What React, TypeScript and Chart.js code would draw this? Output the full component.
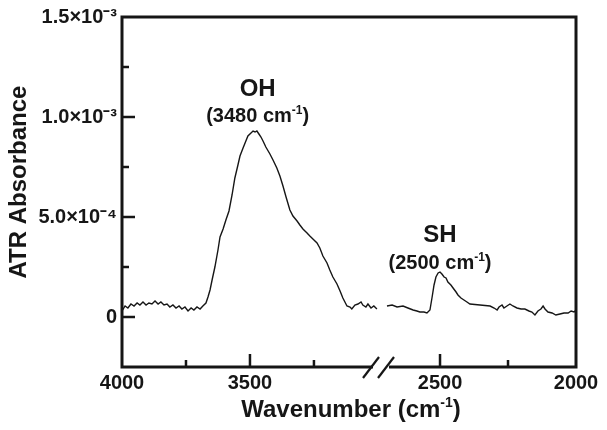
import React, { useEffect, useRef } from 'react';
import { Chart, registerables } from 'chart.js';

Chart.register(...registerables);

const FONT = '"Liberation Sans", Arial, Helvetica, sans-serif';
const INK = '#161616';

// OH region (left part of the broken axis)
const OH_WAVENUMBER = [
  4000, 3988, 3977, 3965, 3953, 3941, 3930, 3918, 3906, 3895, 3883, 3871, 3859, 3848, 3836, 3824,
  3813, 3801, 3789, 3777, 3766, 3754, 3742, 3730, 3719, 3707, 3695, 3684, 3672, 3664, 3656, 3648,
  3637, 3625, 3617, 3605, 3594, 3582, 3570, 3559, 3547, 3539, 3527, 3516, 3508, 3496, 3488, 3480,
  3473, 3465, 3457, 3449, 3438, 3422, 3410, 3395, 3383, 3371, 3359, 3344, 3332, 3316, 3305, 3293,
  3277, 3266, 3254, 3238, 3227, 3215, 3199, 3188, 3176, 3160, 3148, 3137, 3129, 3121, 3109, 3102,
  3090, 3078, 3066, 3059, 3047, 3039, 3027, 3016, 3004,
];
const OH_ABSORBANCE = [
  3.0e-5, 5.5e-5, 4.5e-5, 6.5e-5, 5.5e-5, 7.0e-5, 6.0e-5, 7.5e-5, 6.0e-5, 7.0e-5, 6.5e-5, 8.0e-5, 6.5e-5, 7.5e-5, 6.0e-5, 6.5e-5,
  5.0e-5, 6.0e-5, 4.5e-5, 5.5e-5, 4.0e-5, 5.0e-5, 3.0e-5, 4.5e-5, 3.5e-5, 5.0e-5, 4.0e-5, 5.5e-5, 7.0e-5, 1.0e-4, 1.35e-4, 1.85e-4,
  2.5e-4, 3.35e-4, 4.0e-4, 4.4e-4, 4.85e-4, 5.3e-4, 6.1e-4, 6.95e-4, 7.6e-4, 8.05e-4, 8.45e-4, 8.8e-4, 9.05e-4, 9.2e-4, 9.3e-4, 9.25e-4,
  9.3e-4, 9.15e-4, 9.0e-4, 8.8e-4, 8.5e-4, 8.15e-4, 7.85e-4, 7.45e-4, 7.05e-4, 6.55e-4, 6.0e-4, 5.35e-4, 5.05e-4, 4.8e-4, 4.6e-4, 4.4e-4,
  4.2e-4, 4.05e-4, 3.9e-4, 3.7e-4, 3.45e-4, 3.05e-4, 2.7e-4, 2.35e-4, 2.0e-4, 1.65e-4, 1.3e-4, 9.5e-5, 7.5e-5, 5.5e-5, 5.0e-5, 4.0e-5,
  6.0e-5, 6.5e-5, 7.5e-5, 6.0e-5, 5.0e-5, 6.5e-5, 4.5e-5, 5.5e-5, 4.0e-5,
];

// SH region (right part of the broken axis)
const SH_WAVENUMBER = [
  2695, 2676, 2658, 2636, 2618, 2599, 2585, 2574, 2559, 2548, 2537, 2529, 2522, 2515, 2507, 2500,
  2493, 2485, 2478, 2471, 2460, 2452, 2441, 2434, 2423, 2412, 2401, 2390, 2353, 2316, 2301, 2290,
  2283, 2272, 2265, 2254, 2243, 2232, 2217, 2202, 2188, 2173, 2162, 2151, 2140, 2129, 2121, 2114,
  2103, 2088, 2074, 2059, 2044, 2029, 2018, 2007, 2000,
];
const SH_ABSORBANCE = [
  5.5e-5, 6.0e-5, 5.0e-5, 5.5e-5, 4.5e-5, 3.5e-5, 3.0e-5, 2.5e-5, 2.5e-5, 2.0e-5, 3.5e-5, 1.0e-4, 1.6e-4, 2.0e-4, 2.2e-4, 2.25e-4,
  2.15e-4, 2.0e-4, 1.95e-4, 1.75e-4, 1.6e-4, 1.45e-4, 1.25e-4, 1.1e-4, 9.5e-5, 8.5e-5, 7.5e-5, 6.5e-5, 6.0e-5, 5.5e-5, 4.5e-5, 3.5e-5,
  5.0e-5, 6.0e-5, 4.5e-5, 5.5e-5, 6.5e-5, 5.5e-5, 4.5e-5, 4.0e-5, 4.0e-5, 3.0e-5, 2.5e-5, 1.0e-5, 3.0e-5, 4.0e-5, 5.5e-5, 4.0e-5,
  2.5e-5, 2.0e-5, 1.0e-5, 1.5e-5, 2.0e-5, 2.0e-5, 3.0e-5, 2.5e-5, 3.5e-5,
];

// Axis ranges and ticks
const X_LEFT_RANGE = [2988, 4000];
const X_RIGHT_RANGE = [2000, 2717];
const X_LEFT_WEIGHT = 259;
const X_RIGHT_WEIGHT = 195;
const X_LEFT_LABELS = [4000, 3500];
const X_RIGHT_LABELS = [2500, 2000];
const X_LEFT_MAJOR = [3500];
const X_LEFT_MINOR = [3750, 3250];
const X_RIGHT_MAJOR = [2500];
const X_RIGHT_MINOR = [2250];

const Y_RANGE = [-2.5e-4, 1.5e-3];
const Y_TICKS = [0, 5e-4, 1e-3, 1.5e-3];
const Y_TICK_LABELS = ['0', '5.0×10⁻⁴', '1.0×10⁻³', '1.5×10⁻³'];
const Y_MAJOR = [0, 5e-4, 1e-3];
const Y_MINOR = [2.5e-4, 7.5e-4, 1.25e-3];

// Peak annotations: name, wavenumber text, anchor (wavenumber, absorbance) for name and subtitle
const PEAK_NAMES = ['OH', 'SH'];
const PEAK_TEXTS = ['3480', '2500'];
const PEAK_AXES = ['xL', 'xR'];
const PEAK_ANCHOR_WN = [3470, 2500];
const PEAK_NAME_ABS = [1.15e-3, 4.18e-4];
const PEAK_SUB_ABS = [1.01e-3, 2.78e-4];

type Part = { t: string; sup?: boolean };

function drawRich(ctx: CanvasRenderingContext2D, parts: Part[], cx: number, cy: number, size: number) {
  const main = `bold ${size}px ${FONT}`;
  const sup = `bold ${Math.round(size * 0.58)}px ${FONT}`;
  let total = 0;
  const widths = parts.map((p) => {
    ctx.font = p.sup ? sup : main;
    const w = ctx.measureText(p.t).width;
    total += w;
    return w;
  });
  let x = cx - total / 2;
  const base = cy + size * 0.36;
  ctx.textAlign = 'left';
  ctx.textBaseline = 'alphabetic';
  parts.forEach((p, i) => {
    ctx.font = p.sup ? sup : main;
    ctx.fillText(p.t, x, p.sup ? base - size * 0.4 : base);
    x += widths[i];
  });
}

const decorPlugin = {
  id: 'decor',
  afterDraw(chart: any) {
    const { ctx, chartArea: a, scales } = chart;
    const yS = scales.y;
    const xL = scales.xL;
    const xR = scales.xR;
    ctx.save();
    ctx.strokeStyle = INK;
    ctx.fillStyle = INK;
    ctx.lineCap = 'butt';

    const seg = (x1: number, y1: number, x2: number, y2: number) => {
      ctx.beginPath();
      ctx.moveTo(x1, y1);
      ctx.lineTo(x2, y2);
      ctx.stroke();
    };

    // ticks (inward)
    ctx.lineWidth = 2.5;
    Y_MAJOR.forEach((v) => { const p = yS.getPixelForValue(v); seg(a.left, p, a.left + 13, p); });
    Y_MINOR.forEach((v) => { const p = yS.getPixelForValue(v); seg(a.left, p, a.left + 7, p); });
    X_LEFT_MAJOR.forEach((v) => { const p = xL.getPixelForValue(v); seg(p, a.bottom, p, a.bottom - 13); });
    X_LEFT_MINOR.forEach((v) => { const p = xL.getPixelForValue(v); seg(p, a.bottom, p, a.bottom - 7); });
    X_RIGHT_MAJOR.forEach((v) => { const p = xR.getPixelForValue(v); seg(p, a.bottom, p, a.bottom - 13); });
    X_RIGHT_MINOR.forEach((v) => { const p = xR.getPixelForValue(v); seg(p, a.bottom, p, a.bottom - 7); });

    // frame
    ctx.lineWidth = 3;
    ctx.strokeRect(a.left, a.top, a.right - a.left, a.bottom - a.top);

    // axis break
    const bx = xL.right;
    ctx.fillStyle = '#ffffff';
    ctx.fillRect(bx - 8, a.bottom - 3, 16, 6);
    ctx.fillStyle = INK;
    ctx.lineWidth = 2.2;
    seg(bx - 18, a.bottom + 11, bx - 2, a.bottom - 10);
    seg(bx - 3, a.bottom + 11, bx + 13, a.bottom - 10);

    // peak annotations
    PEAK_NAMES.forEach((name, i) => {
      const sx = scales[PEAK_AXES[i]];
      const px = sx.getPixelForValue(PEAK_ANCHOR_WN[i]);
      drawRich(ctx, [{ t: name }], px, yS.getPixelForValue(PEAK_NAME_ABS[i]), 24);
      drawRich(ctx, [{ t: `(${PEAK_TEXTS[i]} cm` }, { t: '-1', sup: true }, { t: ')' }], px,
        yS.getPixelForValue(PEAK_SUB_ABS[i]), 20);
    });

    // axis titles
    drawRich(ctx, [{ t: 'Wavenumber (cm' }, { t: '-1', sup: true }, { t: ')' }], (a.left + a.right) / 2 + 2, 408, 24);
    ctx.save();
    ctx.translate(17, 182);
    ctx.rotate(-Math.PI / 2);
    drawRich(ctx, [{ t: 'ATR Absorbance' }], 0, 0, 24);
    ctx.restore();

    ctx.restore();
  },
};

export default function App() {
  const ref = useRef<HTMLCanvasElement | null>(null);

  useEffect(() => {
    if (!ref.current) return;
    const tickFont = { family: FONT, size: 20, weight: 'bold' as const };
    const chart = new Chart(ref.current, {
      type: 'line',
      data: {
        datasets: [
          {
            label: 'OH',
            data: OH_WAVENUMBER.map((x, i) => ({ x, y: OH_ABSORBANCE[i] })),
            xAxisID: 'xL',
            yAxisID: 'y',
            borderColor: INK,
            borderWidth: 1.4,
            pointRadius: 0,
            tension: 0,
            fill: false,
          },
          {
            label: 'SH',
            data: SH_WAVENUMBER.map((x, i) => ({ x, y: SH_ABSORBANCE[i] })),
            xAxisID: 'xR',
            yAxisID: 'y',
            borderColor: INK,
            borderWidth: 1.4,
            pointRadius: 0,
            tension: 0,
            fill: false,
          },
        ],
      },
      options: {
        responsive: false,
        animation: false,
        layout: { padding: { top: 17, right: 31, bottom: 0, left: 0 } },
        plugins: { legend: { display: false }, tooltip: { enabled: false }, title: { display: false } },
        scales: {
          xL: {
            type: 'linear',
            position: 'bottom',
            stack: 'wn',
            stackWeight: X_LEFT_WEIGHT,
            reverse: true,
            min: X_LEFT_RANGE[0],
            max: X_LEFT_RANGE[1],
            grid: { display: false, drawTicks: false },
            border: { display: false },
            afterBuildTicks: (s: any) => { s.ticks = X_LEFT_LABELS.map((value) => ({ value })); },
            afterFit: (s: any) => { s.height = 63; },
            ticks: {
              autoSkip: false,
              maxRotation: 0,
              padding: 4,
              color: INK,
              font: tickFont,
              callback: (v: any) => String(v),
            },
          },
          xR: {
            type: 'linear',
            position: 'bottom',
            stack: 'wn',
            stackWeight: X_RIGHT_WEIGHT,
            reverse: true,
            min: X_RIGHT_RANGE[0],
            max: X_RIGHT_RANGE[1],
            grid: { display: false, drawTicks: false },
            border: { display: false },
            afterBuildTicks: (s: any) => { s.ticks = X_RIGHT_LABELS.map((value) => ({ value })); },
            afterFit: (s: any) => { s.height = 63; },
            ticks: {
              autoSkip: false,
              maxRotation: 0,
              padding: 4,
              color: INK,
              font: tickFont,
              callback: (v: any) => String(v),
            },
          },
          y: {
            type: 'linear',
            position: 'left',
            min: Y_RANGE[0],
            max: Y_RANGE[1],
            grid: { display: false, drawTicks: false },
            border: { display: false },
            afterBuildTicks: (s: any) => { s.ticks = Y_TICKS.map((value) => ({ value })); },
            afterFit: (s: any) => { s.width = 122; },
            ticks: {
              autoSkip: false,
              padding: 5,
              color: INK,
              font: tickFont,
              callback: (v: any) => {
                const i = Y_TICKS.findIndex((t) => Math.abs(t - v) < 1e-9);
                return i >= 0 ? Y_TICK_LABELS[i] : '';
              },
            },
          },
        },
      },
      plugins: [decorPlugin],
    });
    return () => chart.destroy();
  }, []);

  return (
    <div style={{ position: 'absolute', left: 0, top: 0, width: 607, height: 430, background: '#fff' }}>
      <canvas ref={ref} width={607} height={430} style={{ display: 'block' }} />
    </div>
  );
}
